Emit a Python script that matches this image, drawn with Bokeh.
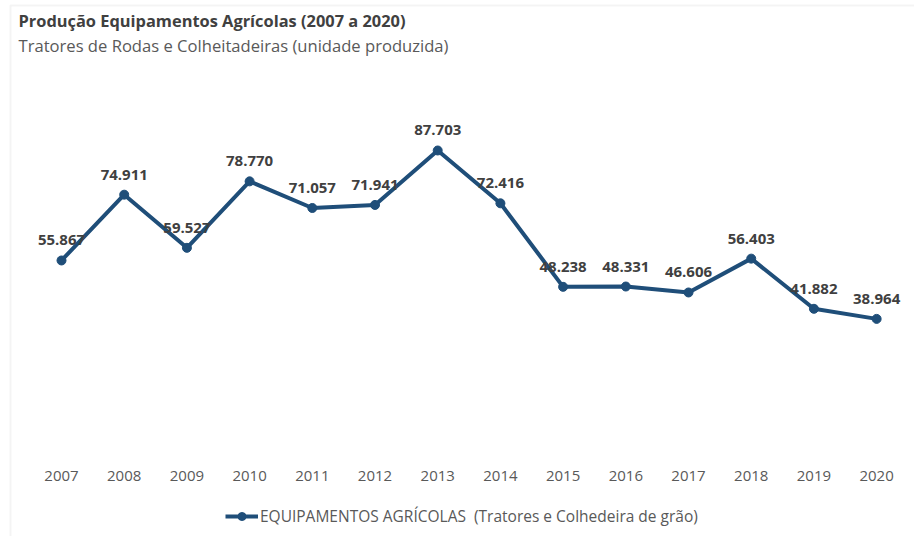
from bokeh.plotting import figure
from bokeh.models import ColumnDataSource, Label, Legend, LegendItem, FixedTicker, Range1d, BoxAnnotation, LinearAxis
from bokeh.core.properties import value
from bokeh.embed import file_html
from bokeh.resources import INLINE

years = [2007, 2008, 2009, 2010, 2011, 2012, 2013, 2014, 2015, 2016, 2017, 2018, 2019, 2020]
values = [55867, 74911, 59527, 78770, 71057, 71941, 87703, 72416, 48238, 48331, 46606, 56403, 41882, 38964]
value_labels = ["55.867", "74.911", "59.527", "78.770", "71.057", "71.941", "87.703",
                "72.416", "48.238", "48.331", "46.606", "56.403", "41.882", "38.964"]
series_name = "EQUIPAMENTOS AGRÍCOLAS  (Tratores e Colhedeira de grão)"
title_text = "Produção Equipamentos Agrícolas (2007 a 2020)"
subtitle_text = "Tratores de Rodas e Colheitadeiras (unidade produzida)"

BLUE = "#1F4E79"
DARK = "#404040"
GREY = "#595959"
FONT = "Open Sans"

W, H = 914, 536
src = ColumnDataSource(dict(x=years, y=values, lab=value_labels))

p = figure(width=W, height=H, output_backend="svg", toolbar_location=None,
           x_axis_location=None, y_axis_location=None,
           x_range=Range1d(2006.027, 2020.604), y_range=Range1d(-24023, 131114),
           min_border_left=0, min_border_right=0, min_border_top=0, min_border_bottom=0)
p.grid.visible = False
p.outline_line_color = None
p.background_fill_color = "white"
p.border_fill_color = "white"

xax = LinearAxis(ticker=FixedTicker(ticks=years), fixed_location=0)
xax.axis_line_color = None
xax.major_tick_line_color = None
xax.minor_tick_line_color = None
xax.major_label_text_font = FONT
xax.major_label_text_font_size = "15px"
xax.major_label_text_color = GREY
xax.major_label_standoff = 11
p.add_layout(xax, "below")

line = p.line("x", "y", source=src, line_color=BLUE, line_width=4)
pts = p.scatter("x", "y", source=src, size=9, fill_color=BLUE, line_color=BLUE)

p.text("x", "y", text="lab", source=src, y_offset=-20, text_align="center",
       text_baseline="middle", text_font=value(FONT), text_font_style="bold",
       text_font_size="15px", text_color=DARK)

legend = Legend(items=[LegendItem(label=series_name, renderers=[line, pts])],
                orientation="horizontal", location=(225, 9),
                label_text_font=FONT, label_text_font_size="15.5px", label_text_color=GREY,
                glyph_width=33, label_standoff=2, border_line_color=None,
                background_fill_alpha=0, padding=6, margin=0)
p.add_layout(legend)

p.add_layout(Label(x=18, y=H - 20, x_units="screen", y_units="screen", text=title_text,
                   text_font=FONT, text_font_style="bold", text_font_size="16.4px",
                   text_color=DARK, text_baseline="middle"))
p.add_layout(Label(x=18, y=H - 45, x_units="screen", y_units="screen", text=subtitle_text,
                   text_font=FONT, text_font_size="16.6px",
                   text_color=GREY, text_baseline="middle"))

p.add_layout(BoxAnnotation(left=10, right=2000, top=H - 5, bottom=-200,
                           left_units="screen", right_units="screen",
                           top_units="screen", bottom_units="screen",
                           fill_alpha=0, line_color="#D9D9D9", line_width=2))

open("out.html", "w").write(file_html(p, INLINE))
